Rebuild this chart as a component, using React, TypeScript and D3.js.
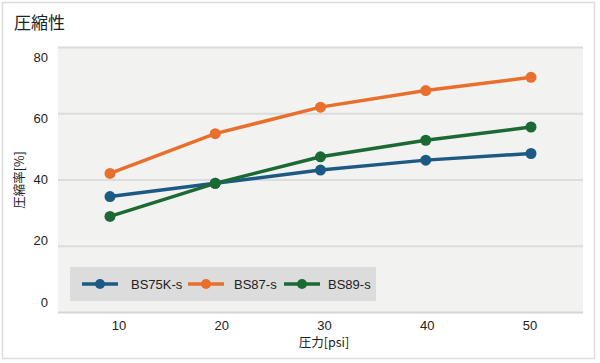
import React from "react"
import { scaleLinear, line } from "d3"

const pressures = [10, 20, 30, 40, 50]
const yTicks = [0, 20, 40, 60, 80]
const seriesNames = ["BS75K-s", "BS87-s", "BS89-s"]
const seriesColors = ["#1c5a83", "#e86f2c", "#1b6a33"]
const bs75k = [35, 39, 43, 46, 48]
const bs87 = [42, 54, 62, 67, 71]
const bs89 = [29, 39, 47, 52, 56]
const seriesValues = [bs75k, bs87, bs89]

const W = 600
const H = 363
const font = "'Liberation Sans', 'Noto Sans CJK JP', sans-serif"
const jpFont = "'Noto Sans CJK JP', sans-serif"

export default function App() {
  const plot = { left: 58, right: 583, top: 47, bottom: 312 }

  const x = scaleLinear().domain([10, 50]).range([110, 531])
  const y = scaleLinear().domain([0, 80]).range([312.5, 47.5])
  // tick labels sit on their own slightly inset spacing in the original
  const xLabel = scaleLinear().domain([10, 50]).range([119, 530])
  const yLabel = scaleLinear().domain([0, 80]).range([302, 57])

  const path = line<number>()
    .x((d, i) => x(pressures[i]))
    .y(d => y(d))

  const legendX = [82, 188, 284]
  const legendTextX = [131, 234, 328]

  return (
    <div style={{ position: "absolute", left: 0, top: 0 }}>
      <svg width={W} height={H} style={{ display: "block" }}>
        <rect x={0} y={0} width={W} height={H} fill="#fff" />
        <rect x={2.5} y={2.5} width={592} height={356} fill="none" stroke="#dcdcdc" strokeWidth={1.5} />
        <text x={14} y={29} fontSize={17} fontFamily={jpFont} fill="#222">
          圧縮性
        </text>

        <rect
          x={plot.left}
          y={plot.top}
          width={plot.right - plot.left}
          height={plot.bottom - plot.top}
          fill="#f2f2f1"
        />
        {yTicks.map(t => (
          <line
            key={t}
            x1={plot.left}
            x2={plot.right}
            y1={y(t)}
            y2={y(t)}
            stroke={t === 0 ? "#d6d6d6" : "#dcdcdc"}
            strokeWidth={2}
          />
        ))}
        {yTicks.map(t => (
          <text
            key={t}
            x={48}
            y={yLabel(t)}
            dy="0.35em"
            textAnchor="end"
            fontSize={13}
            fontFamily={font}
            fill="#222"
          >
            {t}
          </text>
        ))}
        {pressures.map(p => (
          <text
            key={p}
            x={xLabel(p)}
            y={325}
            dy="0.35em"
            textAnchor="middle"
            fontSize={13}
            fontFamily={font}
            fill="#222"
          >
            {p}
          </text>
        ))}
        <text x={324} y={347} textAnchor="middle" fontSize={12.5} fontFamily={jpFont} fill="#222">
          圧力[psi]
        </text>
        <text
          transform="translate(24,180) rotate(-90)"
          textAnchor="middle"
          fontSize={12.5}
          fontFamily={jpFont}
          fill="#222"
        >
          圧縮率[%]
        </text>

        {seriesValues.map((vals, si) => (
          <g key={si}>
            <path d={path(vals) || ""} fill="none" stroke={seriesColors[si]} strokeWidth={3.5} />
            {vals.map((v, i) => (
              <circle key={i} cx={x(pressures[i])} cy={y(v)} r={5.5} fill={seriesColors[si]} />
            ))}
          </g>
        ))}

        <rect x={70} y={267} width={306} height={34} fill="#dcdcdc" />
        {seriesNames.map((n, i) => (
          <g key={n}>
            <line
              x1={legendX[i]}
              x2={legendX[i] + 36}
              y1={284}
              y2={284}
              stroke={seriesColors[i]}
              strokeWidth={3.5}
            />
            <circle cx={legendX[i] + 18} cy={284} r={5} fill={seriesColors[i]} />
            <text
              x={legendTextX[i]}
              y={284}
              dy="0.35em"
              fontSize={13}
              fontFamily={font}
              fill="#222"
            >
              {n}
            </text>
          </g>
        ))}
      </svg>
    </div>
  )
}
